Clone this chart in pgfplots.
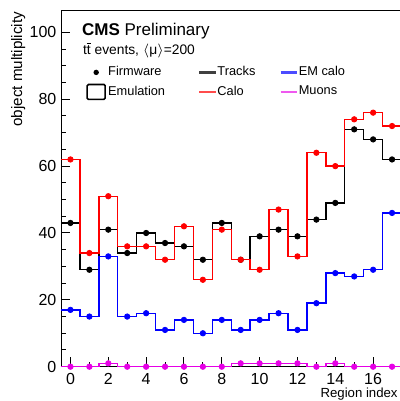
\documentclass[border=0pt]{standalone}
\usepackage{pgfplots}
\pgfplotsset{compat=1.18}
\usepackage{pgfplotstable}
\usepackage{fontspec}
\setmainfont{Liberation Sans}

% bin centers 0..17; row 18 repeats the last bin to close the step at 17.5
\pgfplotstableread{
x tracks calo em mu
0 43 62 17 0
1 29 34 15 0
2 41 51 33 1
3 34 36 15 0
4 40 36 16 0
5 37 32 11 0
6 36 42 14 0
7 32 26 10 0
8 43 41 14 0
9 32 32 11 1
10 39 29 14 1
11 41 47 16 1
12 39 33 11 1
13 44 64 19 0
14 49 60 28 1
15 71 74 27 0
16 68 76 29 0
17 62 72 46 0
18 62 72 46 0
}\data

\definecolor{rootred}{RGB}{255,0,0}
\definecolor{rootblue}{RGB}{0,0,255}
\definecolor{rootmag}{RGB}{230,0,230}

\begin{document}
\begin{tikzpicture}
\useasboundingbox (-30.5pt,-17.15pt) rectangle (169.5pt,183.35pt);
\begin{axis}[
  scale only axis, width=170.25pt, height=178pt,
  xmin=-0.5, xmax=17.5, ymin=0, ymax=106.5,
  clip=false,
  axis line style={black, line width=0.5pt},
  xtick={0,2,...,16}, minor x tick num=1,
  ytick={0,20,...,100}, minor y tick num=3,
  xtick pos=bottom, ytick pos=left,
  tick align=inside,
  major tick length=4.7pt, minor tick length=2.5pt,
  tick style={black, line width=0.5pt},
  /pgf/number format/assume math mode=true,
  tick label style={font=\fontsize{8}{9}\selectfont},
  yticklabel style={xshift=1.2pt},
  xlabel={Region index},
  xlabel style={at={(axis description cs:0.9897,-0.0870)}, anchor=base east, inner sep=0pt, font=\fontsize{6.6}{7.5}\selectfont},
  ylabel={object multiplicity},
  ylabel style={at={(axis description cs:-0.1145,0.998)}, anchor=base east, inner sep=0pt, font=\fontsize{7.6}{8.5}\selectfont},
  legend columns=3,
  legend style={at={(axis description cs:0.0734,0.845)}, anchor=north west, draw=none, fill=none,
    inner sep=0pt, font=\fontsize{6.4}{7.5}\selectfont, row sep=2.6pt, column sep=0pt,
    /tikz/every odd column/.style={column sep=0pt},
    /tikz/every even column/.style={column sep=0pt},
    nodes={inner sep=0pt, anchor=west}},
]
% legend entries (row-wise: Firmware, Tracks, EM calo / Emulation, Calo, Muons)
\addlegendimage{draw=none, mark=none, legend image code/.code={\path[draw=none] (0pt,0pt) -- (10.5pt,0pt); \fill[black] (4.5pt,0pt) circle (1.35pt);}}
\addlegendentry{\makebox[45pt][l]{Firmware}}
\addlegendimage{draw=none, mark=none, legend image code/.code={\path[draw=none] (0pt,0pt) -- (9.1pt,0pt); \draw[draw=black!75, line width=1.1pt] (0pt,0pt) -- (8.3pt,0pt);}}
\addlegendentry{\makebox[31pt][l]{Tracks}}
\addlegendimage{draw=none, mark=none, legend image code/.code={\path[draw=none] (0pt,0pt) -- (9.1pt,0pt); \draw[draw=rootblue!70, line width=1.1pt] (0pt,0pt) -- (8.3pt,0pt);}}
\addlegendentry{EM calo}
\addlegendimage{draw=none, mark=none, legend image code/.code={\path[draw=none] (0pt,0pt) -- (10.5pt,0pt); \draw[draw=black, line width=0.8pt, rounded corners=0.6pt] (0pt,-3.7pt) rectangle (9pt,3.7pt);}}
\addlegendentry{\makebox[45pt][l]{Emulation}}
\addlegendimage{draw=none, mark=none, legend image code/.code={\path[draw=none] (0pt,0pt) -- (9.1pt,0pt); \draw[draw=rootred!70, line width=1.1pt] (0pt,0pt) -- (8.3pt,0pt);}}
\addlegendentry{\makebox[31pt][l]{Calo}}
\addlegendimage{draw=none, mark=none, legend image code/.code={\path[draw=none] (0pt,0pt) -- (9.1pt,0pt); \draw[draw=rootmag!65, line width=1.1pt] (0pt,0pt) -- (8.3pt,0pt);}}
\addlegendentry{Muons}

% emulation step histograms
\addplot[forget plot, black, line width=0.7pt, const plot mark left, no marks] table[x expr=\thisrow{x}-0.5, y=tracks] {\data};
\addplot[forget plot, rootred, line width=0.7pt, const plot mark left, no marks] table[x expr=\thisrow{x}-0.5, y=calo] {\data};
\addplot[forget plot, rootblue, line width=0.7pt, const plot mark left, no marks] table[x expr=\thisrow{x}-0.5, y=em] {\data};
\addplot[forget plot, rootmag, line width=0.7pt, const plot mark left, no marks] table[x expr=\thisrow{x}-0.5, y=mu] {\data};

% firmware points
\addplot[forget plot, only marks, mark=*, mark size=1.35pt, black, restrict x to domain=0:17] table[x=x, y=tracks] {\data};
\addplot[forget plot, only marks, mark=*, mark size=1.35pt, rootred, restrict x to domain=0:17] table[x=x, y=calo] {\data};
\addplot[forget plot, only marks, mark=*, mark size=1.35pt, rootblue, restrict x to domain=0:17] table[x=x, y=em] {\data};
\addplot[forget plot, only marks, mark=*, mark size=1.35pt, rootmag, restrict x to domain=0:17] table[x=x, y=mu] {\data};

\node[anchor=base west, inner sep=0pt, font=\fontsize{8.5}{10}\selectfont] at (axis description cs:0.0608,0.9317) {\textbf{CMS} Preliminary};
\node[anchor=base west, inner sep=0pt, font=\fontsize{6.9}{8}\selectfont] at (axis description cs:0.0637,0.8756) {t$\overline{\hbox{t}}$ events, $\langle$μ$\rangle$=200};
\end{axis}
\end{tikzpicture}
\end{document}
